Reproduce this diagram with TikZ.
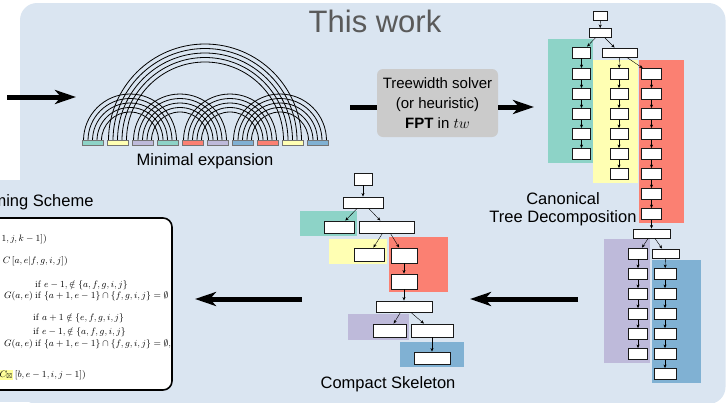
\RequirePackage{fix-cm}
\documentclass[tikz,border=0pt]{standalone}
\usepackage{amssymb}
\usepackage[no-math]{fontspec}
\setmainfont{Liberation Sans}
\usetikzlibrary{arrows.meta}

\definecolor{workbg}{HTML}{DAE5F1}
\definecolor{setteal}{HTML}{8DD3C7}
\definecolor{setyellow}{HTML}{FFFFB3}
\definecolor{setpurple}{HTML}{BEBADA}
\definecolor{setred}{HTML}{FB8072}
\definecolor{setblue}{HTML}{80B1D3}
\definecolor{solvergray}{HTML}{CBCBCB}
\definecolor{titlegray}{HTML}{5A5A5A}
\definecolor{marker}{HTML}{FFFF99}

\begin{document}
\begin{tikzpicture}[x=1pt, y=-1pt,
    bag/.style = {rectangle, draw=black!90, fill=white, line width=0.9pt, inner sep=0pt, minimum height=11pt},
    stagename/.style = {font=\fontsize{16.5}{18}\selectfont, align=center},
    formula/.style = {font=\fontsize{9.3}{11}\selectfont, inner sep=0pt},
    bigarrow/.style = {line width=5pt, -{Stealth[length=21pt, width=14pt, inset=6pt]}},
    >={Stealth[length=3.5pt, width=3pt]}]
  \useasboundingbox (0,0) rectangle (727,402);

  % Panels.
  \fill [workbg, rounded corners=17pt] (20,3) rectangle (725.5,404);
  \fill [workbg] (0,180) rectangle (30,402);
  \node at (375,21) [font=\fontsize{31}{36}\selectfont, text=titlegray, name=Title] {This work};

  % Minimal expansion.
  \foreach \i/\j in {1/4, 2/9, 3/6, 5/8, 7/10}
    \foreach \m in {0,...,4} {
      \pgfmathsetmacro{\r}{(25*(\j-\i)+18-9*\m)/2}
      \draw [line width=0.8pt] ({58.5+25*\i+4.5*\m}, 140.5) arc [start angle=180, end angle=0, radius=\r pt];
    }
  \foreach \c [count=\k] in {setteal, setyellow, setpurple, setteal, setred, setpurple, setblue, setred, setyellow, setblue}
    \node at ({67.5+25*\k}, 143) [rectangle, draw=black!55, fill=\c, line width=0.6pt, inner sep=0pt,
                                   minimum width=21pt, minimum height=4.5pt, name=Seg\k] {};
  \node at (205,161) [stagename, name=MinimalExpansion] {Minimal expansion};

  \coordinate (Input) at (7,97);
  \coordinate (ArcsIn) at (76,97);
  \draw [bigarrow] (Input) -- (ArcsIn);

  % Treewidth solver.
  \node at (437.5,103) [rectangle, rounded corners=6pt, fill=solvergray, minimum width=121pt, minimum height=68pt,
                        align=center, font=\fontsize{15}{20}\selectfont, name=Solver]
        {Treewidth solver\\(or heuristic)\\\textbf{FPT} in $tw$};
  \coordinate (ArcsOut) at (350,107);
  \coordinate (TreeIn) at (534,107);
  \draw [line width=5pt] (ArcsOut) -- (ArcsOut -| Solver.west);
  \draw [bigarrow] (Solver.east |- TreeIn) -- (TreeIn);

  % Canonical tree decomposition.
  \fill [setteal] (548,39) rectangle (593,163);
  \fill [setyellow] (593,60) rectangle (638,183);
  \fill [setred] (639,60) rectangle (684,223);
  \fill [setpurple] (604,239) rectangle (650,363);
  \fill [setblue] (652,260) rectangle (701,383);

  \node at (600.5,16) [bag, minimum width=14pt, minimum height=9pt, name=CtdRoot] {};
  \node at (600,33) [bag, minimum width=22pt, minimum height=9pt, name=CtdSplit] {};
  \node at (619.5,52.5) [bag, minimum width=35pt, minimum height=9pt, name=CtdFork] {};
  \foreach \y [count=\k] in {52.5,74,94,114,134,154}
    \node at (581.5,\y) [bag, minimum width=18pt, name=CtdTeal\k] {};
  \foreach \y [count=\k] in {74,94,114,134,154,174}
    \node at (619,\y) [bag, minimum width=18pt, name=CtdYellow\k] {};
  \foreach \y [count=\k] in {74,94,114,134,154,174,194,214}
    \node at (651.5,\y) [bag, minimum width=20pt, name=CtdRed\k] {};
  \node at (651.5,233.5) [bag, minimum width=37pt, minimum height=9pt, name=CtdJoin] {};
  \foreach \y [count=\k] in {253.5,274,294,314,334,354}
    \node at (638,\y) [bag, minimum width=19pt, name=CtdPurple\k] {};
  \node at (665.5,253.5) [bag, minimum width=27pt, minimum height=9pt, name=CtdBlueTop] {};
  \foreach \y [count=\k] in {274,294,314,334,354,374}
    \node at (665,\y) [bag, minimum width=22pt, name=CtdBlue\k] {};

  \draw [->] (CtdRoot) -- (CtdSplit);
  \draw [->] (CtdSplit) -- (CtdTeal1);
  \draw [->] (CtdSplit) -- (CtdFork);
  \draw [->] (CtdFork) -- (CtdYellow1);
  \draw [->] (CtdFork) -- (CtdRed1);
  \foreach \k [count=\n from 2] in {1,...,5} {
    \draw [->] (CtdTeal\k) -- (CtdTeal\n);
    \draw [->] (CtdYellow\k) -- (CtdYellow\n);
    \draw [->] (CtdPurple\k) -- (CtdPurple\n);
    \draw [->] (CtdBlue\k) -- (CtdBlue\n);
  }
  \foreach \k [count=\n from 2] in {1,...,7}
    \draw [->] (CtdRed\k) -- (CtdRed\n);
  \draw [->] (CtdRed8) -- (CtdJoin);
  \draw [->] (CtdJoin) -- (CtdPurple1);
  \draw [->] (CtdJoin) -- (CtdBlueTop);
  \draw [->] (CtdBlueTop) -- (CtdBlue1);
  \node at (563,209) [stagename, name=CtdCaption] {Canonical\\Tree Decomposition};

  \coordinate (JoinOut) at (578,299);
  \coordinate (SkeletonIn) at (470,299);
  \draw [bigarrow] (JoinOut) -- (SkeletonIn);

  % Compact skeleton.
  \fill [setteal] (300,211) rectangle (357,236);
  \fill [setyellow] (329,239) rectangle (387,264);
  \fill [setred] (389,237) rectangle (448,292);
  \fill [setpurple] (348,314) rectangle (409,340);
  \fill [setblue] (400,342) rectangle (464,367);

  \node at (363,179) [bag, minimum width=18pt, minimum height=12pt, name=CsRoot] {};
  \node at (363,202.5) [bag, minimum width=40pt, name=CsSplit] {};
  \node at (339,227) [bag, minimum width=30pt, minimum height=12pt, name=CsTeal] {};
  \node at (386.5,227) [bag, minimum width=55pt, minimum height=12pt, name=CsFork] {};
  \node at (369,254.5) [bag, minimum width=30pt, minimum height=13pt, name=CsYellow] {};
  \node at (404,255.5) [bag, minimum width=26pt, minimum height=15pt, name=CsRedA] {};
  \node at (404,281.5) [bag, minimum width=26pt, minimum height=15pt, name=CsRedB] {};
  \node at (404,306.5) [bag, minimum width=56pt, name=CsJoin] {};
  \node at (389.5,330.5) [bag, minimum width=33pt, minimum height=13pt, name=CsPurple] {};
  \node at (432,330.5) [bag, minimum width=42pt, minimum height=13pt, name=CsRight] {};
  \node at (432,358) [bag, minimum width=36pt, minimum height=12pt, name=CsBlue] {};

  \draw [->] (CsRoot) -- (CsSplit);
  \draw [->] (CsSplit) -- (CsTeal);
  \draw [->] (CsSplit) -- (CsFork);
  \draw [->] (CsFork) -- (CsYellow);
  \draw [->] (CsFork) -- (CsRedA);
  \draw [->] (CsRedA) -- (CsRedB);
  \draw [->] (CsRedB) -- (CsJoin);
  \draw [->] (CsJoin) -- (CsPurple);
  \draw [->] (CsJoin) -- (CsRight);
  \draw [->] (CsRight) -- (CsBlue);
  \node at (388,384) [stagename, name=CsCaption] {Compact Skeleton};

  \coordinate (SkeletonOut) at (302,299);
  \coordinate (SchemeIn) at (195,299);
  \draw [bigarrow] (SkeletonOut) -- (SchemeIn);

  % Dynamic programming scheme.
  \node at (97,202) [stagename, anchor=east, name=SchemeTitle] {ming Scheme};
  \node at (76,304) [rectangle, rounded corners=9pt, draw, line width=1.6pt, fill=white,
                     minimum width=192pt, minimum height=172pt, name=Scheme] {};
  \node at (47,239) [formula, anchor=east, name=SchemeRowA] {${}-1,j,k-1])$};
  \node at (68,261) [formula, anchor=east, name=SchemeRowB] {${}+C\,[a,e|f,g,i,j])$};
  \node at (35,285) [formula, anchor=west, name=SchemeRowC] {$\mathrm{if}\ e-1,\notin\{a,f,g,i,j\}$};
  \node at (33,296) [formula, anchor=east, name=SchemeRowD] {$G(a,e)$};
  \node at (35,296) [formula, anchor=west, name=SchemeRowE] {$\mathrm{if}\ \{a+1,e-1\}\cap\{f,g,i,j\}=\emptyset$};
  \node at (33,318) [formula, anchor=west, name=SchemeRowF] {$\mathrm{if}\ a+1\notin\{e,f,g,i,j\}$};
  \node at (33,332) [formula, anchor=west, name=SchemeRowG] {$\mathrm{if}\ e-1,\notin\{a,f,g,i,j\}$};
  \node at (33,344) [formula, anchor=east, name=SchemeRowH] {$G(a,e)$};
  \node at (35,344) [formula, anchor=west, name=SchemeRowI] {$\mathrm{if}\ \{a+1,e-1\}\cap\{f,g,i,j\}=\emptyset,$};
  \node at (86,375) [formula, anchor=east, name=SchemeRowJ]
        {${}\cdot{\fboxsep=0.6pt\colorbox{marker}{$C_{\boxtimes}$}}\,[b,e-1,i,j-1])$};
\end{tikzpicture}
\end{document}
